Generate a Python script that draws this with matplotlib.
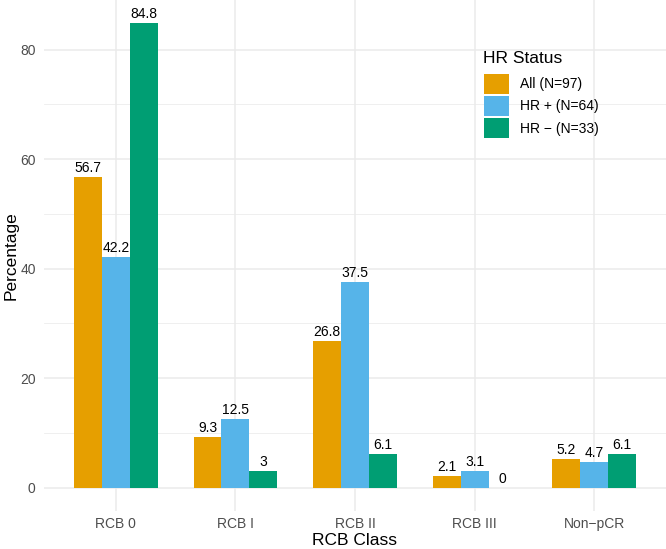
import numpy as np
import matplotlib
matplotlib.use("Agg")
import matplotlib.pyplot as plt

# ── Data ──────────────────────────────────────────────────────────────────────
categories = ["RCB 0", "RCB I", "RCB II", "RCB III", "Non\u2212pCR"]
groups     = ["All (N=97)", "HR + (N=64)", "HR \u2212 (N=33)"]
all_pct    = [56.7, 9.3, 26.8, 2.1, 5.2]
hr_pos_pct = [42.2, 12.5, 37.5, 3.1, 4.7]
hr_neg_pct = [84.8, 3.0, 6.1, 0.0, 6.1]
colors     = ["#E69F00", "#56B4E9", "#009E73"]

plt.rcParams["font.family"] = ["Liberation Sans", "DejaVu Sans"]

W, H = 666, 549
fig = plt.figure(figsize=(W/100, H/100), dpi=100)
ax = fig.add_axes([44/W, 38/H, 1 - 44/W, 1 - 38/H])

x = np.arange(1, len(categories) + 1)
bw = 0.7 / 3
series = [all_pct, hr_pos_pct, hr_neg_pct]
handles = []
for i, (vals, lab, col) in enumerate(zip(series, groups, colors)):
    xs = x + (i - 1) * bw
    b = ax.bar(xs, vals, width=bw, color=col, label=lab, zorder=2)
    handles.append(b)
    for xi, v in zip(xs, vals):
        ax.annotate(f"{v:g}", (xi, v), xytext=(0, 1.5), textcoords="offset points",
                    ha="center", va="bottom", fontsize=10, color="black", zorder=3)

ymax = max(max(s) for s in series)
ax.set_xlim(0.4, len(categories) + 0.6)
ax.set_ylim(-0.05 * ymax, ymax * 1.05)
ax.set_xticks(x)
ax.set_xticklabels(categories)
ax.set_yticks([0, 20, 40, 60, 80])
ax.set_yticks([10, 30, 50, 70], minor=True)

# theme_minimal look
for s in ax.spines.values():
    s.set_visible(False)
ax.grid(True, which="major", color="#EBEBEB", lw=1.1, zorder=0)
ax.grid(True, which="minor", axis="y", color="#EBEBEB", lw=0.55, zorder=0)
ax.tick_params(axis="both", which="both", length=0, labelsize=10, labelcolor="#4D4D4D")
ax.tick_params(axis="x", pad=4.5)
ax.tick_params(axis="y", pad=6)
ax.set_axisbelow(True)

ax.set_xlabel("RCB Class", fontsize=12.5)
ax.xaxis.set_label_coords(0.5, -22/511)
ax.set_ylabel("Percentage", fontsize=12.5)
ax.yaxis.set_label_coords(-25/622, 0.5)

# legend (title drawn separately to match ggplot spacing)
fig.text(483/W, 1 - 63/H, "HR Status", fontsize=12.5, ha="left", va="baseline")
fig.legend(handles=handles, labels=groups, loc="upper left",
           bbox_to_anchor=(484/W, 1 - 74/H), frameon=False, fontsize=10,
           handlelength=1.8, handleheight=1.8, labelspacing=0.18,
           handletextpad=0.8, borderpad=0, borderaxespad=0)

fig.savefig("out.png", dpi=100)
